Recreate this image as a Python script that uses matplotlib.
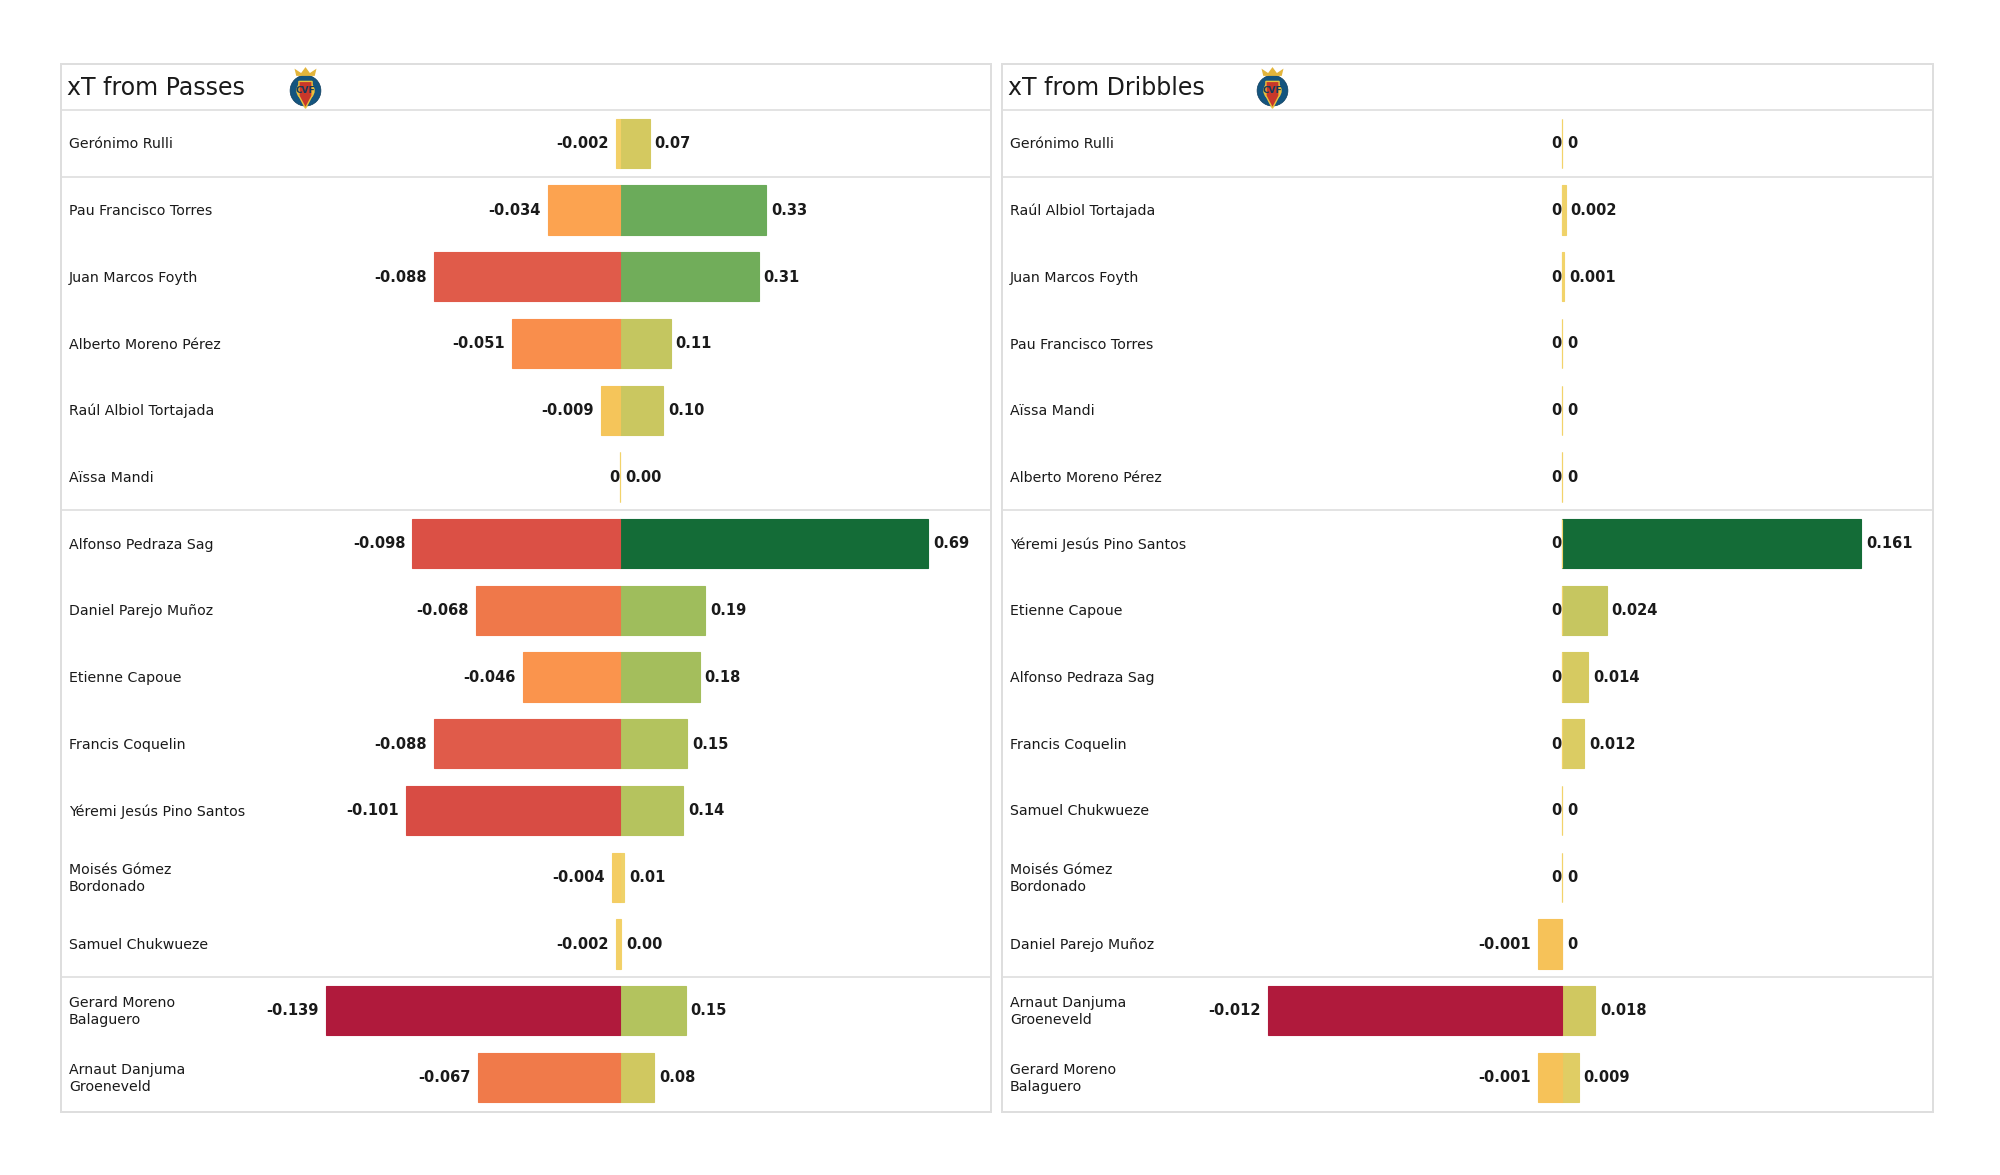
# -*- coding: utf-8 -*-
"""xT from passes / dribbles - diverging player bars, two panels."""
import matplotlib
matplotlib.use('Agg')
import matplotlib.pyplot as plt
from matplotlib.colors import LinearSegmentedColormap, TwoSlopeNorm
from matplotlib.patches import Circle, Polygon

# ── data ──────────────────────────────────────────────
pass_names = ["Gerónimo Rulli", "Pau Francisco Torres", "Juan Marcos Foyth",
              "Alberto Moreno Pérez", "Raúl Albiol Tortajada", "Aïssa Mandi",
              "Alfonso Pedraza Sag", "Daniel Parejo Muñoz", "Etienne Capoue",
              "Francis Coquelin", "Yéremi Jesús Pino Santos",
              "Moisés Gómez\nBordonado", "Samuel Chukwueze",
              "Gerard Moreno\nBalaguero", "Arnaut Danjuma\nGroeneveld"]
pass_neg = [-0.002, -0.034, -0.088, -0.051, -0.009, 0,
            -0.098, -0.068, -0.046, -0.088, -0.101, -0.004, -0.002,
            -0.139, -0.067]
pass_pos = [0.066, 0.327, 0.31, 0.113, 0.097, 0,
            0.69, 0.191, 0.178, 0.15, 0.141, 0.01, 0.003,
            0.147, 0.076]

drib_names = ["Gerónimo Rulli", "Raúl Albiol Tortajada", "Juan Marcos Foyth",
              "Pau Francisco Torres", "Aïssa Mandi", "Alberto Moreno Pérez",
              "Yéremi Jesús Pino Santos", "Etienne Capoue", "Alfonso Pedraza Sag",
              "Francis Coquelin", "Samuel Chukwueze",
              "Moisés Gómez\nBordonado", "Daniel Parejo Muñoz",
              "Arnaut Danjuma\nGroeneveld", "Gerard Moreno\nBalaguero"]
drib_neg = [0, 0, 0, 0, 0, 0, 0, 0, 0, 0, 0, 0, -0.001, -0.012, -0.001]
drib_pos = [0, 0.002, 0.001, 0, 0, 0, 0.161, 0.024, 0.014, 0.012, 0, 0, 0, 0.018, 0.009]

group_breaks = [0.5, 5.5, 12.5]

# ── style ─────────────────────────────────────────────
W, H = 2000, 1175
GRID = '#dedede'
TEXT = '#1a1a1a'
cmap = LinearSegmentedColormap.from_list('xt', [
    (0.00, '#b01a3c'), (0.148, '#dc5145'), (0.184, '#e05c4b'), (0.26, '#f07a4a'),
    (0.317, '#f98e4c'), (0.378, '#fca450'), (0.468, '#f5c55a'), (0.50, '#f3d36a'),
    (0.55, '#d3c960'), (0.58, '#c4c660'), (0.608, '#b3c35e'), (0.637, '#a0bd5c'),
    (0.739, '#6aab5a'), (1.00, '#146c37'),
])


def draw_crest(fig, cx, cy):
    # hand-drawn stand-in for the club badge
    box = 44
    lax = fig.add_axes([(cx - box / 2) / W, 1 - (cy + box / 2) / H, box / W, box / H])
    lax.set_xlim(-1, 1)
    lax.set_ylim(-1, 1)
    lax.axis('off')
    lax.add_patch(Circle((0, -0.12), 0.70, fc='#14557f', ec='#0f3d5e', lw=0.5))
    lax.add_patch(Circle((0, -0.12), 0.42, fc='#e8c23c', ec='none'))
    lax.add_patch(Polygon([(-0.30, 0.30), (0.30, 0.30), (0.30, -0.35), (0, -0.92), (-0.30, -0.35)],
                          fc='#c9382a', ec='#e8c23c', lw=1))
    lax.add_patch(Polygon([(-0.42, 0.55), (-0.5, 0.88), (-0.2, 0.68), (0, 0.95),
                           (0.2, 0.68), (0.5, 0.88), (0.42, 0.55)], fc='#e3b53c', ec='none'))
    lax.text(0, -0.12, 'CVF', ha='center', va='center', fontsize=6.5,
             fontweight='bold', color='#123a5a')


def draw_panel(fig, left, right, zero, pos_scale, neg_scale, title, names, neg, pos, crest_x):
    top, bottom = 64, 1112
    width = right - left
    ax = fig.add_axes([left / W, 1 - bottom / H, width / W, (bottom - top) / H])
    ax_neg = ax.twiny()

    ax.set_xlim(-(zero - left) / pos_scale, (right - zero) / pos_scale)
    ax_neg.set_xlim(-(zero - left) / neg_scale, (right - zero) / neg_scale)
    ax.set_ylim(14.52, -1.19)

    norm_pos = TwoSlopeNorm(vmin=-max(pos), vcenter=0, vmax=max(pos))
    norm_neg = TwoSlopeNorm(vmin=min(neg), vcenter=0, vmax=-min(neg))

    for i, (n, p) in enumerate(zip(neg, pos)):
        c_neg = cmap(norm_neg(n))
        c_pos = cmap(norm_pos(p))
        ax_neg.barh(i, n, height=0.74, color=c_neg, edgecolor=c_neg, linewidth=0.8)
        ax.barh(i, p, height=0.74, color=c_pos, edgecolor=c_pos, linewidth=0.8)

        neg_lab = '0' if n == 0 else f'{n:.3f}'
        gap = -1 if n == 0 else -7
        ax_neg.annotate(neg_lab, (n, i), xytext=(gap * 0.72, -0.2), textcoords='offset points',
                        ha='right', va='center', fontsize=10.5, fontweight='bold', color=TEXT)
        if max(pos) > 0.5:
            pos_lab = f'{p:.2f}'
        else:
            pos_lab = '0' if p == 0 else f'{p:.3f}'
        ax.annotate(pos_lab, (p, i), xytext=(5 * 0.72, -0.2), textcoords='offset points',
                    ha='left', va='center', fontsize=10.5, fontweight='bold', color=TEXT)

    for y in [-0.5] + group_breaks:
        ax.axhline(y, color=GRID, lw=1.2, zorder=0)

    # names and title are placed in axes-x / data-y
    trans = ax.get_yaxis_transform()
    for i, name in enumerate(names):
        ax.text(8 / width, i + 0.015, name, transform=trans, ha='left', va='center',
                fontsize=10.2, color=TEXT, linespacing=1.3)
    ax.text(6 / width, -0.83, title, transform=trans, ha='left', va='center',
            fontsize=17, color=TEXT)

    for a in (ax, ax_neg):
        a.set_xticks([])
        a.set_yticks([])
        for s in a.spines.values():
            s.set_color(GRID)
            s.set_linewidth(1.2)

    draw_crest(fig, crest_x, 88)


fig = plt.figure(figsize=(W / 100, H / 100), dpi=100, facecolor='white')

draw_panel(fig, 61, 991, 620, 447, 2118, "xT from Passes",
           pass_names, pass_neg, pass_pos, 305.5)
draw_panel(fig, 1002, 1933, 1562, 1860, 24500, "xT from Dribbles",
           drib_names, drib_neg, drib_pos, 1272.5)

fig.savefig('out.png', dpi=100, facecolor='white')
plt.close(fig)
